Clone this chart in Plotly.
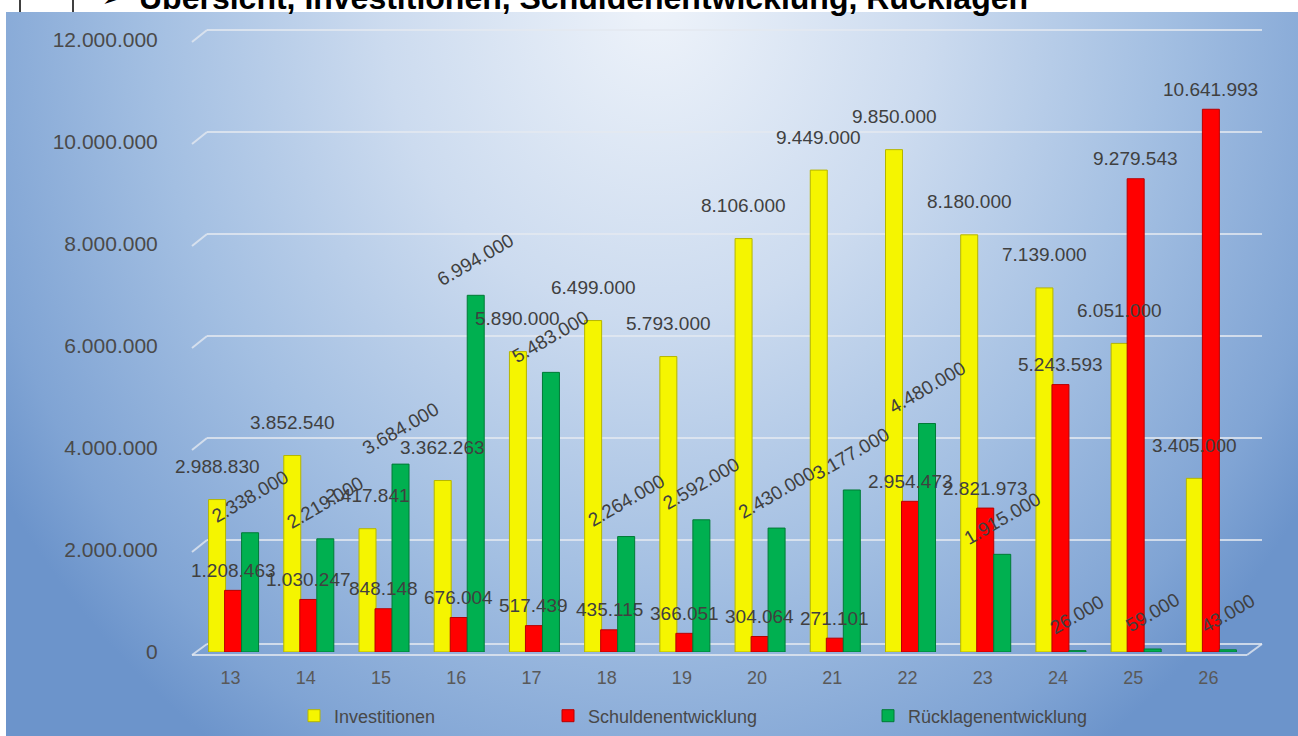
import base64
import plotly.graph_objects as go

# ---------------- data ----------------
jahre = ["13", "14", "15", "16", "17", "18", "19", "20", "21", "22", "23", "24", "25", "26"]
investitionen = [2988830, 3852540, 2417841, 3362263, 5890000, 6499000, 5793000,
                 8106000, 9449000, 9850000, 8180000, 7139000, 6051000, 3405000]
schulden = [1208463, 1030247, 848148, 676004, 517439, 435115, 366051,
            304064, 271101, 2954473, 2821973, 5243593, 9279543, 10641993]
ruecklagen = [2338000, 2219000, 3684000, 6994000, 5483000, 2264000, 2592000,
              2430000, 3177000, 4480000, 1915000, 26000, 59000, 43000]
y_ticks = [0, 2000000, 4000000, 6000000, 8000000, 10000000, 12000000]
series_names = ["Investitionen", "Schuldenentwicklung", "Rücklagenentwicklung"]
title_text = "Übersicht, Investitionen, Schuldenentwicklung, Rücklagen"

# ---------------- layout geometry ----------------
W, H = 1298, 736
L, R, T, B = 193, 1246, 40, 652
YMAX = 12000000
CAT_PX = (R - L) / len(jahre)


def px_x(p):
    return (p - L) / (R - L)


def px_y(p):
    return (B - p) / (B - T)


def val_px(v):
    return B - v / YMAX * (B - T)


def fmt(v):
    return "{:,}".format(v).replace(",", ".")


FONT = "Liberation Sans, Arial, sans-serif"
GREY = "#404040"

# background gradient (svg data uri)
svg = (
    "<svg xmlns='http://www.w3.org/2000/svg' width='1292' height='724' viewBox='0 0 1292 724' "
    "preserveAspectRatio='none'><defs>"
    "<radialGradient id='g' gradientUnits='userSpaceOnUse' cx='0' cy='0' r='1' "
    "gradientTransform='translate(650,-10) scale(780,900)'>"
    "<stop offset='0' stop-color='#eef3fa'/>"
    "<stop offset='0.35' stop-color='#ccdbef'/>"
    "<stop offset='0.65' stop-color='#a3bfe2'/>"
    "<stop offset='0.9' stop-color='#80a4d4'/>"
    "<stop offset='1' stop-color='#6c94cb'/>"
    "</radialGradient></defs>"
    "<rect width='1292' height='724' fill='url(#g)'/></svg>"
)
bg_src = "data:image/svg+xml;base64," + base64.b64encode(svg.encode()).decode()

fig = go.Figure()

colors = ["#f5f500", "#ff0000", "#00b050"]
edges = ["#b5b500", "#b80000", "#007a36"]
offsets = [-0.293, -0.08, 0.146]
bar_w = 0.226
angles = [0, 0, -30]
label_lift = [33, 20, 36]
annotations = []
for i, (name, vals) in enumerate(zip(series_names, [investitionen, schulden, ruecklagen])):
    fig.add_trace(go.Bar(
        x=jahre, y=vals, name=name,
        width=bar_w, offset=offsets[i],
        marker=dict(color=colors[i], line=dict(color=edges[i], width=1)),
        hoverinfo="x+y+name",
        legend="legend" if i == 0 else "legend%d" % (i + 1),
    ))
    for idx, v in enumerate(vals):
        annotations.append(dict(
            text=fmt(v), x=idx, y=v, xref="x", yref="y",
            xshift=(offsets[i] + bar_w / 2) * CAT_PX, yshift=label_lift[i],
            xanchor="center", yanchor="middle", textangle=angles[i], showarrow=False,
            font=dict(family=FONT, size=19, color=GREY)))

shapes = []
# 3D style gridlines (side wall + back wall)
grid_col = "rgba(228,232,240,0.8)"
for v in y_ticks[1:]:
    yf = val_px(v)
    shapes.append(dict(type="line", xref="paper", yref="paper",
                       x0=px_x(192), y0=px_y(yf + 2), x1=px_x(207), y1=px_y(yf - 10),
                       line=dict(color=grid_col, width=2), layer="below"))
    shapes.append(dict(type="line", xref="paper", yref="paper",
                       x0=px_x(207), y0=px_y(yf - 10), x1=px_x(1262), y1=px_y(yf - 10),
                       line=dict(color=grid_col, width=2), layer="below"))
# floor
y0f = val_px(0)
floor_pts = [(192, y0f + 3), (1247, y0f + 3), (1262, y0f - 8), (207, y0f - 8)]
for a, b in zip(floor_pts, floor_pts[1:] + floor_pts[:1]):
    shapes.append(dict(type="line", xref="paper", yref="paper",
                       x0=px_x(a[0]), y0=px_y(a[1]), x1=px_x(b[0]), y1=px_y(b[1]),
                       line=dict(color=grid_col, width=2), layer="below"))
# table border lines at top left
for xp in (20, 73):
    shapes.append(dict(type="line", xref="paper", yref="paper",
                       x0=px_x(xp), y0=px_y(0), x1=px_x(xp), y1=px_y(12),
                       line=dict(color="black", width=1.5)))

annotations += [
    dict(text="➢", x=px_x(100), y=px_y(-2), xref="paper", yref="paper",
         xanchor="left", yanchor="middle", showarrow=False,
         font=dict(family="DejaVu Sans", size=22, color="black")),
    dict(text="<b>%s</b>" % title_text, x=px_x(137), y=px_y(-2), xref="paper", yref="paper",
         xanchor="left", yanchor="middle", showarrow=False,
         font=dict(family=FONT, size=32, color="black")),
]

leg_common = dict(orientation="h", yanchor="middle", y=px_y(716), xanchor="left",
                  bgcolor="rgba(0,0,0,0)", font=dict(family=FONT, size=18, color="#484848"))

fig.update_layout(
    width=W, height=H,
    margin=dict(l=L, r=W - R, t=T, b=H - B, pad=0, autoexpand=False),
    paper_bgcolor="white", plot_bgcolor="rgba(0,0,0,0)",
    barmode="overlay",
    separators=",.",
    showlegend=True,
    legend=dict(x=px_x(294), **leg_common),
    legend2=dict(x=px_x(548), **leg_common),
    legend3=dict(x=px_x(868), **leg_common),
    images=[dict(source=bg_src, xref="paper", yref="paper",
                 x=px_x(6), y=px_y(12), sizex=px_x(1298) - px_x(6), sizey=px_y(12) - px_y(736),
                 xanchor="left", yanchor="top", sizing="stretch", layer="below")],
    shapes=shapes,
    annotations=annotations,
    xaxis=dict(type="category", range=[-0.5, 13.5], showgrid=False, zeroline=False,
               showline=False, ticks="outside", ticklen=9, tickcolor="rgba(0,0,0,0)",
               tickfont=dict(family=FONT, size=18, color="#595959")),
    yaxis=dict(range=[0, YMAX], tickvals=y_ticks, tickformat=",.0f", showgrid=False,
               zeroline=False, showline=False, ticks="outside", ticklen=30,
               tickcolor="rgba(0,0,0,0)",
               tickfont=dict(family=FONT, size=21, color="#4a4a4a")),
)

fig.write_html("out.html")
